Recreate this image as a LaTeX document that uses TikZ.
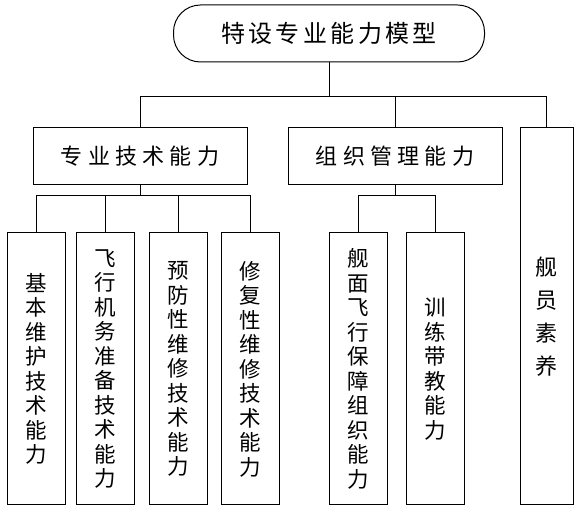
\documentclass[tikz,border=0pt]{standalone}
\usepackage{fontspec}
\newfontfamily\cjk[LetterSpace=14]{Noto Sans CJK SC}
\newfontfamily\cjkg[LetterSpace=24]{Noto Sans CJK SC}
\newfontfamily\cjkv{Noto Sans CJK SC}

\begin{document}
\begin{tikzpicture}[
  x=1pt, y=-1pt,
  line width=1pt,
  model/.style   = {draw, rounded corners=27pt, minimum width=311pt, minimum height=57pt,
                    inner sep=0pt, font=\cjk\fontsize{24}{28}\selectfont},
  group/.style   = {draw, minimum width=214pt, minimum height=57pt, inner sep=0pt,
                    font=\cjkg\fontsize{22}{26}\selectfont},
  leaf/.style    = {draw, minimum width=58pt, minimum height=272pt, inner sep=0pt,
                    align=center, font=\cjkv\fontsize{21.5}{24.5}\selectfont},
  wide/.style    = {font=\cjkv\fontsize{22}{33}\selectfont},   % the lone column
]
  \useasboundingbox (0,0) rectangle (579,510);

  % top and second level
  \node[model] (model) at (329,33.5) {特设专业能力模型};
  \node[group] (tech) at (140,156.5) {专业技术能力};
  \node[group] (mgmt) at (395,156.5) {组织管理能力};
  \node[leaf,wide,minimum width=53pt,minimum height=377pt] (crew) at (546.5,316.5)
       {舰\\员\\素\\养};

  % leaves
  \node[leaf] (basic)   at (36,369)    {基\\本\\维\\护\\技\\术\\能\\力};
  \node[leaf] (flight)  at (105.5,369) {飞\\行\\机\\务\\准\\备\\技\\术\\能\\力};
  \node[leaf] (prevent) at (178,369)   {预\\防\\性\\维\\修\\技\\术\\能\\力};
  \node[leaf] (repair)  at (250.5,369) {修\\复\\性\\维\\修\\技\\术\\能\\力};
  \node[leaf] (deck)    at (358.5,369) {舰\\面\\飞\\行\\保\\障\\组\\织\\能\\力};
  \node[leaf] (train)   at (435,369)   {训\\练\\带\\教\\能\\力};

  \coordinate (top bus) at (0,97);
  \coordinate (sub bus) at (0,196);

  \draw (model.south) -- (model.south |- top bus);
  \draw (tech.north) |- (top bus -| crew.north) -- (crew.north);
  \draw (mgmt.north) -- (mgmt.north |- top bus);

  \draw (tech.south) -- (tech.south |- sub bus);
  \draw (basic.north) |- (sub bus -| repair.north) -- (repair.north);
  \draw (flight.north) -- (flight.north |- sub bus);
  \draw (prevent.north) -- (prevent.north |- sub bus);

  \draw (mgmt.south) -- (mgmt.south |- sub bus);
  \draw (deck.north) |- (sub bus -| train.north) -- (train.north);
\end{tikzpicture}
\end{document}
